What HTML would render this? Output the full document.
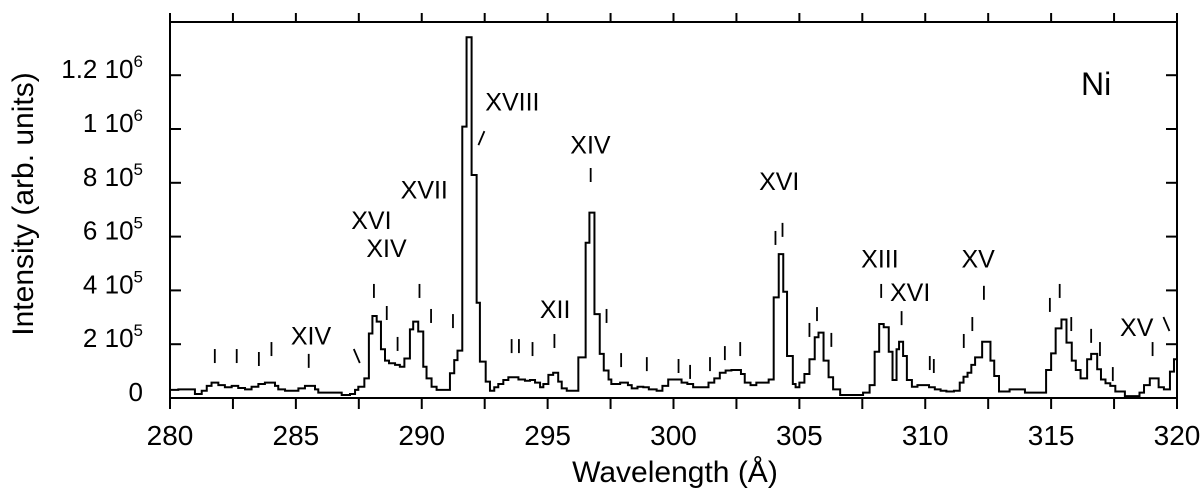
<!DOCTYPE html>
<html><head><meta charset="utf-8"><style>
html,body{margin:0;padding:0;background:#fff;}
svg{display:block;font-family:"Liberation Sans",Arial,sans-serif;}
</style></head><body>
<svg id="chart" width="1200" height="495" viewBox="0 0 1200 495" xmlns="http://www.w3.org/2000/svg">
<text x="0" y="0" transform="translate(33,204) rotate(-90)" text-anchor="middle" font-size="30">Intensity (arb. units)</text>
<text x="675" y="482" text-anchor="middle" font-size="30">Wavelength (Å)</text>
<text x="1081" y="95" font-size="32">Ni</text>
</svg>
<script>
// step-edge wavelengths (Å) and intensity (units of 1e5)
const wavelengths = [280,280.33,280.99,281.26,281.46,281.65,281.92,282.18,282.45,282.71,282.98,283.24,283.51,283.77,284.17,284.30,284.57,285.10,285.36,285.76,285.89,286.82,287.15,287.35,287.48,287.72,287.90,288.04,288.21,288.38,288.54,288.70,288.94,289.13,289.31,289.53,289.66,289.86,290.06,290.19,290.39,290.59,291.12,291.29,291.42,291.61,291.78,291.98,292.18,292.31,292.54,292.71,292.88,293.04,293.24,293.44,293.84,294.10,294.30,294.50,294.70,294.83,295.03,295.22,295.42,295.56,295.76,296.22,296.51,296.66,296.86,297.07,297.23,297.42,297.53,297.88,298.19,298.34,298.57,298.80,299.02,299.33,299.56,299.79,300.01,300.32,300.55,300.78,301.01,301.39,301.62,301.84,302.07,302.30,302.68,302.83,303.06,303.29,303.57,303.78,303.98,304.18,304.36,304.51,304.74,304.85,305.00,305.20,305.40,305.61,305.76,305.96,306.16,306.34,306.62,307.53,307.79,307.99,308.17,308.35,308.55,308.70,308.86,308.96,309.12,309.27,309.47,309.69,309.92,310.15,310.38,310.61,310.84,311.14,311.37,311.52,311.68,311.83,311.98,312.26,312.59,312.74,312.93,313.35,313.96,314.80,315.00,315.18,315.41,315.61,315.82,315.98,316.17,316.43,316.59,316.83,316.98,317.16,317.35,317.55,317.93,318.51,318.69,318.92,319.27,319.48,319.72,319.88];
const intensities = [0.30,0.32,0.15,0.27,0.45,0.57,0.48,0.40,0.45,0.37,0.32,0.42,0.52,0.57,0.45,0.32,0.27,0.36,0.45,0.32,0.20,0.11,0.15,0.30,0.42,0.73,2.40,3.05,2.84,1.81,1.39,1.29,1.23,1.16,1.47,2.55,2.84,2.47,1.16,0.73,0.42,0.30,0.92,1.41,1.76,10.09,13.41,8.29,3.54,1.35,0.61,0.27,0.40,0.52,0.67,0.77,0.69,0.64,0.67,0.57,0.40,0.52,0.86,0.94,0.61,0.36,0.27,1.51,5.77,6.89,3.12,1.64,1.02,0.69,0.52,0.57,0.48,0.36,0.42,0.40,0.32,0.27,0.45,0.69,0.69,0.57,0.52,0.40,0.40,0.57,0.73,0.94,1.02,1.04,0.89,0.57,0.48,0.57,0.57,0.69,3.74,5.35,3.95,1.56,0.52,0.40,0.57,0.89,1.44,2.26,2.43,1.39,0.77,0.32,0.11,0.20,0.48,1.72,2.75,2.63,1.72,0.67,1.81,2.09,1.56,0.67,0.42,0.48,0.48,0.40,0.32,0.27,0.24,0.27,0.57,0.79,0.94,1.23,1.51,2.09,1.39,0.82,0.24,0.32,0.20,1.04,1.66,2.59,2.92,2.06,1.39,1.04,0.73,1.44,1.64,1.07,0.69,0.55,0.45,0.24,0.07,0.20,0.48,0.73,0.40,0.32,0.98,1.44];
const xTicks = [280,282.5,285,287.5,290,292.5,295,297.5,300,302.5,305,307.5,310,312.5,315,317.5,320];
const xTickLabels = ["280","285","290","295","300","305","310","315","320"];
const yTickValues = [0,2,4,6,8,10,12];
const yTickMant = ["0","2","4","6","8","1","1.2"];
const yTickExp = ["","5","5","5","5","6","6"];
// ion annotations: label, wavelength, baseline value (1e5)
const ionLabels = ["XIV","XVI","XIV","XVII","XVIII","XII","XIV","XVI","XIII","XVI","XV","XV"];
const ionLabelX = [285.6,288.0,288.6,290.1,293.6,295.3,296.7,304.2,308.2,309.4,312.1,318.4];
const ionLabelY = [1.98,6.28,5.24,7.42,10.69,2.98,9.09,7.73,4.85,3.61,4.85,2.31];
// line markers: wavelength, top value (1e5), style (|, \, /)
const markX = [281.78,282.65,283.53,284.03,285.51,287.42,288.10,288.61,289.04,289.91,290.37,291.24,292.37,293.57,293.86,294.40,295.27,296.71,297.34,297.92,298.94,300.20,300.66,301.45,302.04,302.65,304.05,304.33,305.40,305.70,306.27,308.25,309.06,310.18,310.34,311.53,311.87,312.33,314.95,315.34,315.80,316.59,316.94,317.45,319.03,319.58];
const markY = [1.82,1.82,1.71,2.08,1.64,1.82,4.24,3.42,2.27,4.24,3.31,3.12,9.92,2.19,2.19,2.08,2.38,8.55,3.31,1.67,1.52,1.45,1.23,1.52,1.93,2.08,6.21,6.51,2.79,3.38,2.42,4.24,3.23,1.56,1.45,2.38,3.01,4.17,3.72,4.24,3.01,2.57,2.08,1.15,2.08,3.01];
const markStyle = ["|","|","|","|","|","\\","|","|","|","|","|","|","/","|","|","|","|","|","|","|","|","|","|","|","|","|","|","|","|","|","|","|","|","|","|","|","|","|","|","|","|","|","|","|","|","\\"];

const NS="http://www.w3.org/2000/svg";
const svg=document.getElementById('chart');
const L=170,R=1177,T=22,B=398;
const xs=w=>L+(w-280)/40*(R-L);
const ys=v=>B-v/2*53.8;
function mk(tag,attrs,parent){const e=document.createElementNS(NS,tag);for(const k in attrs)e.setAttribute(k,attrs[k]);(parent||svg).appendChild(e);return e;}

const frame=mk('rect',{x:L,y:T,width:R-L,height:B-T,fill:'none',stroke:'#000','stroke-width':2});



xTicks.forEach(t=>{
  const x=xs(t);
  const a=mk('line',{x1:x,x2:x,y1:B,y2:B+11,stroke:'#000','stroke-width':2});
  
  
  const b=mk('line',{x1:x,x2:x,y1:T,y2:T-9,stroke:'#000','stroke-width':2});
  
  
});
xTickLabels.forEach(s=>{
  const t=mk('text',{x:xs(+s),y:445,'text-anchor':'middle','font-size':28});
  t.textContent=s;
  
  
});
yTickValues.forEach((v,i)=>{
  const y=ys(v);
  const a=mk('line',{x1:L,x2:L+11,y1:y,y2:y,stroke:'#000','stroke-width':2});
  
  
  const b=mk('line',{x1:R,x2:R-11,y1:y,y2:y,stroke:'#000','stroke-width':2});
  
  
  const t=mk('text',{x:143,y:y+3,'text-anchor':'end','font-size':26});
  
  
  if(yTickExp[i]){
    t.appendChild(document.createTextNode(yTickMant[i]+' 10'));
    const sp=document.createElementNS(NS,'tspan');
    sp.setAttribute('font-size','17');sp.setAttribute('dy','-11');
    sp.textContent=yTickExp[i];
    t.appendChild(sp);
  } else t.textContent=yTickMant[i];
});

let d='M'+xs(wavelengths[0])+','+ys(intensities[0]);
for(let i=0;i<wavelengths.length;i++){
  const x0=xs(wavelengths[i]);
  const x1=xs(i+1<wavelengths.length?wavelengths[i+1]:320);
  const y=ys(intensities[i]);
  d+=' L'+x0+','+y+' L'+x1+','+y;
}
const path=mk('path',{d:d,fill:'none',stroke:'#000','stroke-width':2,'stroke-linejoin':'miter'});



markX.forEach((w,i)=>{
  const x=xs(w),y=ys(markY[i]);
  let dx=0;
  if(markStyle[i]==='\\')dx=-3; else if(markStyle[i]==='/')dx=3;
  const l=mk('line',{x1:x+dx,x2:x-dx,y1:y,y2:y+14,stroke:'#000','stroke-width':1.8});
  
  
});
ionLabels.forEach((s,i)=>{
  const t=mk('text',{x:xs(ionLabelX[i]),y:ys(ionLabelY[i]),'text-anchor':'middle','font-size':25});
  t.textContent=s;
  
  
});
</script>
</body></html>
